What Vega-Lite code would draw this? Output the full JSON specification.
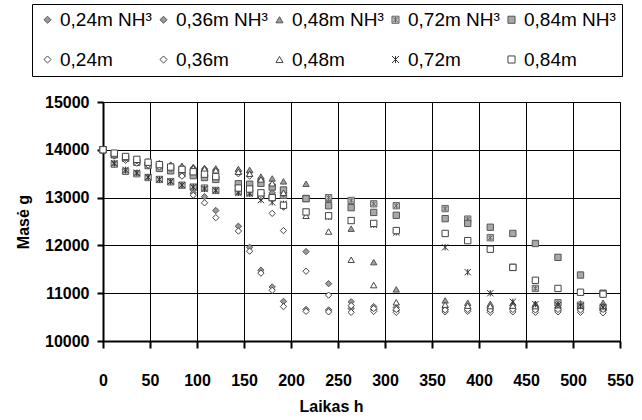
{
  "$schema": "https://vega.github.io/schema/vega-lite/v6.json",
  "width": 517,
  "height": 239,
  "autosize": {"type": "none"},
  "padding": {"left": 103, "top": 102, "right": 22, "bottom": 79},
  "background": "white",
  "data": {"values": [
    {"t":0,"0,24m NH³":14000,"0,36m NH³":14000,"0,48m NH³":14000,"0,72m NH³":14000,"0,84m NH³":14000,"0,24m":14000,"0,36m":14000,"0,48m":14000,"0,72m":14000,"0,84m":14000},
    {"t":12,"0,24m NH³":13880,"0,36m NH³":13890,"0,48m NH³":13900,"0,72m NH³":13700,"0,84m NH³":13900,"0,24m":13870,"0,36m":13880,"0,48m":13890,"0,72m":13720,"0,84m":13930},
    {"t":24,"0,24m NH³":13800,"0,36m NH³":13830,"0,48m NH³":13850,"0,72m NH³":13550,"0,84m NH³":13820,"0,24m":13780,"0,36m":13820,"0,48m":13840,"0,72m":13580,"0,84m":13860},
    {"t":36,"0,24m NH³":13740,"0,36m NH³":13780,"0,48m NH³":13800,"0,72m NH³":13500,"0,84m NH³":13740,"0,24m":13720,"0,36m":13770,"0,48m":13790,"0,72m":13520,"0,84m":13800},
    {"t":48,"0,24m NH³":13700,"0,36m NH³":13740,"0,48m NH³":13760,"0,72m NH³":13420,"0,84m NH³":13670,"0,24m":13680,"0,36m":13730,"0,48m":13750,"0,72m":13430,"0,84m":13740},
    {"t":60,"0,24m NH³":13660,"0,36m NH³":13700,"0,48m NH³":13720,"0,72m NH³":13380,"0,84m NH³":13610,"0,24m":13640,"0,36m":13690,"0,48m":13710,"0,72m":13380,"0,84m":13690},
    {"t":72,"0,24m NH³":13620,"0,36m NH³":13670,"0,48m NH³":13690,"0,72m NH³":13330,"0,84m NH³":13560,"0,24m":13600,"0,36m":13660,"0,48m":13680,"0,72m":13340,"0,84m":13640},
    {"t":84,"0,24m NH³":13500,"0,36m NH³":13640,"0,48m NH³":13660,"0,72m NH³":13260,"0,84m NH³":13500,"0,24m":13450,"0,36m":13630,"0,48m":13650,"0,72m":13260,"0,84m":13590},
    {"t":96,"0,24m NH³":13100,"0,36m NH³":13620,"0,48m NH³":13640,"0,72m NH³":13220,"0,84m NH³":13460,"0,24m":13050,"0,36m":13600,"0,48m":13620,"0,72m":13220,"0,84m":13540},
    {"t":108,"0,24m NH³":13020,"0,36m NH³":13600,"0,48m NH³":13620,"0,72m NH³":13200,"0,84m NH³":13420,"0,24m":12890,"0,36m":13570,"0,48m":13600,"0,72m":13180,"0,84m":13490},
    {"t":120,"0,24m NH³":12730,"0,36m NH³":13580,"0,48m NH³":13610,"0,72m NH³":13150,"0,84m NH³":13380,"0,24m":12580,"0,36m":13550,"0,48m":13570,"0,72m":13150,"0,84m":13440},
    {"t":144,"0,24m NH³":12400,"0,36m NH³":13560,"0,48m NH³":13600,"0,72m NH³":13120,"0,84m NH³":13290,"0,24m":12300,"0,36m":13500,"0,48m":13540,"0,72m":13100,"0,84m":13200},
    {"t":156,"0,24m NH³":11960,"0,36m NH³":13530,"0,48m NH³":13580,"0,72m NH³":13100,"0,84m NH³":13280,"0,24m":11880,"0,36m":13450,"0,48m":13500,"0,72m":13080,"0,84m":13180},
    {"t":168,"0,24m NH³":11480,"0,36m NH³":13400,"0,48m NH³":13440,"0,72m NH³":13050,"0,84m NH³":13300,"0,24m":11420,"0,36m":13000,"0,48m":13380,"0,72m":12950,"0,84m":13100},
    {"t":180,"0,24m NH³":11130,"0,36m NH³":13100,"0,48m NH³":13400,"0,72m NH³":13000,"0,84m NH³":13220,"0,24m":11060,"0,36m":12670,"0,48m":13300,"0,72m":12900,"0,84m":13000},
    {"t":192,"0,24m NH³":10830,"0,36m NH³":12800,"0,48m NH³":13340,"0,72m NH³":13050,"0,84m NH³":13160,"0,24m":10720,"0,36m":12310,"0,48m":13100,"0,72m":12870,"0,84m":12840},
    {"t":216,"0,24m NH³":10660,"0,36m NH³":11870,"0,48m NH³":13290,"0,72m NH³":12980,"0,84m NH³":12980,"0,24m":10620,"0,36m":11460,"0,48m":12620,"0,72m":12700,"0,84m":12700},
    {"t":240,"0,24m NH³":10650,"0,36m NH³":11200,"0,48m NH³":12980,"0,72m NH³":13000,"0,84m NH³":12830,"0,24m":10610,"0,36m":10960,"0,48m":12290,"0,72m":12600,"0,84m":12620},
    {"t":264,"0,24m NH³":10680,"0,36m NH³":10820,"0,48m NH³":12350,"0,72m NH³":12940,"0,84m NH³":12790,"0,24m":10600,"0,36m":10740,"0,48m":11700,"0,72m":12520,"0,84m":12520},
    {"t":288,"0,24m NH³":10660,"0,36m NH³":10720,"0,48m NH³":11650,"0,72m NH³":12870,"0,84m NH³":12690,"0,24m":10620,"0,36m":10680,"0,48m":11170,"0,72m":12430,"0,84m":12460},
    {"t":312,"0,24m NH³":10640,"0,36m NH³":10700,"0,48m NH³":11080,"0,72m NH³":12830,"0,84m NH³":12630,"0,24m":10600,"0,36m":10660,"0,48m":10810,"0,72m":12270,"0,84m":12310},
    {"t":364,"0,24m NH³":10660,"0,36m NH³":10700,"0,48m NH³":10850,"0,72m NH³":12770,"0,84m NH³":12560,"0,24m":10610,"0,36m":10650,"0,48m":10760,"0,72m":11960,"0,84m":12250},
    {"t":388,"0,24m NH³":10650,"0,36m NH³":10690,"0,48m NH³":10800,"0,72m NH³":12550,"0,84m NH³":12460,"0,24m":10620,"0,36m":10660,"0,48m":10740,"0,72m":11440,"0,84m":12100},
    {"t":412,"0,24m NH³":10640,"0,36m NH³":10700,"0,48m NH³":10780,"0,72m NH³":12160,"0,84m NH³":12380,"0,24m":10600,"0,36m":10650,"0,48m":10730,"0,72m":11000,"0,84m":11920},
    {"t":436,"0,24m NH³":10660,"0,36m NH³":10690,"0,48m NH³":10790,"0,72m NH³":11540,"0,84m NH³":12250,"0,24m":10610,"0,36m":10660,"0,48m":10740,"0,72m":10820,"0,84m":11540},
    {"t":460,"0,24m NH³":10650,"0,36m NH³":10700,"0,48m NH³":10780,"0,72m NH³":11100,"0,84m NH³":12040,"0,24m":10600,"0,36m":10650,"0,48m":10730,"0,72m":10770,"0,84m":11270},
    {"t":484,"0,24m NH³":10640,"0,36m NH³":10690,"0,48m NH³":10800,"0,72m NH³":10800,"0,84m NH³":11750,"0,24m":10610,"0,36m":10660,"0,48m":10750,"0,72m":10750,"0,84m":11100},
    {"t":508,"0,24m NH³":10650,"0,36m NH³":10700,"0,48m NH³":10790,"0,72m NH³":10750,"0,84m NH³":11380,"0,24m":10600,"0,36m":10650,"0,48m":10740,"0,72m":10730,"0,84m":11020},
    {"t":532,"0,24m NH³":10640,"0,36m NH³":10690,"0,48m NH³":10800,"0,72m NH³":10700,"0,84m NH³":11000,"0,24m":10590,"0,36m":10660,"0,48m":10730,"0,72m":10710,"0,84m":10980}
  ]},
  "transform": [
    {"fold": ["0,24m NH³","0,36m NH³","0,48m NH³","0,72m NH³","0,84m NH³","0,24m","0,36m","0,48m","0,72m","0,84m"], "as": ["series", "m"]}
  ],
  "mark": {"type": "point", "size": 40, "strokeWidth": 1, "opacity": 1},
  "encoding": {
    "x": {
      "field": "t", "type": "quantitative",
      "scale": {"domain": [0, 550], "nice": false},
      "axis": {
        "values": [0,50,100,150,200,250,300,350,400,450,500,550],
        "format": "d",
        "title": "Laikas h",
        "titleX": 228,
        "titlePadding": 10,
        "labelPadding": 24,
        "tickSize": 7
      }
    },
    "y": {
      "field": "m", "type": "quantitative",
      "scale": {"domain": [10000, 15000], "nice": false, "zero": false},
      "axis": {
        "values": [10000,11000,12000,13000,14000,15000],
        "format": "d",
        "title": "Masė  g",
        "titlePadding": 13,
        "labelPadding": 8,
        "tickSize": 6
      }
    },
    "shape": {
      "field": "series", "type": "nominal",
      "scale": {
        "domain": ["0,24m NH³","0,36m NH³","0,48m NH³","0,72m NH³","0,84m NH³","0,24m","0,36m","0,48m","0,72m","0,84m"],
        "range": ["diamond","diamond","triangle-up","M-1,-1H1V1H-1Z M-0.7,-0.7L0.7,0.7 M-0.7,0.7L0.7,-0.7 M0,-0.8V0.8","square","diamond","diamond","triangle-up","M-1,-1L1,1 M-1,1L1,-1 M0,-1V1","square"]
      },
      "legend": {"title": null}
    },
    "fill": {
      "field": "series", "type": "nominal",
      "scale": {
        "domain": ["0,24m NH³","0,36m NH³","0,48m NH³","0,72m NH³","0,84m NH³","0,24m","0,36m","0,48m","0,72m","0,84m"],
        "range": ["#9a9a9a","#9a9a9a","#a0a0a0","#c4c4c4","#a8a8a8","#ffffff","#ffffff","#ffffff","#ffffff","#ffffff"]
      },
      "legend": {"title": null}
    },
    "stroke": {
      "field": "series", "type": "nominal",
      "scale": {
        "domain": ["0,24m NH³","0,36m NH³","0,48m NH³","0,72m NH³","0,84m NH³","0,24m","0,36m","0,48m","0,72m","0,84m"],
        "range": ["#555555","#555555","#555555","#666666","#555555","#444444","#444444","#444444","#333333","#444444"]
      },
      "legend": {"title": null}
    }
  },
  "config": {
    "view": {"stroke": "#000", "strokeWidth": 1},
    "axis": {
      "labelFont": "Liberation Sans",
      "labelFontSize": 16,
      "labelFontWeight": "bold",
      "labelColor": "#000",
      "titleFont": "Liberation Sans",
      "titleFontSize": 16,
      "titleFontWeight": "bold",
      "titleColor": "#000",
      "domainColor": "#000",
      "domainWidth": 2,
      "tickColor": "#000",
      "tickWidth": 2,
      "gridColor": "#000",
      "gridWidth": 1,
      "gridOpacity": 1,
      "labelFlush": false,
      "labelOverlap": false
    },
    "legend": {
      "orient": "none",
      "legendX": -71,
      "legendY": -98,
      "direction": "horizontal",
      "columns": 5,
      "strokeColor": "#000",
      "fillColor": "#fff",
      "padding": 6,
      "columnPadding": 2,
      "rowPadding": 20,
      "gridAlign": "all",
      "labelFont": "Liberation Sans",
      "labelFontSize": 19,
      "labelColor": "#000",
      "labelLimit": 200,
      "symbolSize": 50,
      "symbolStrokeWidth": 1,
      "labelOffset": 3
    }
  }
}
